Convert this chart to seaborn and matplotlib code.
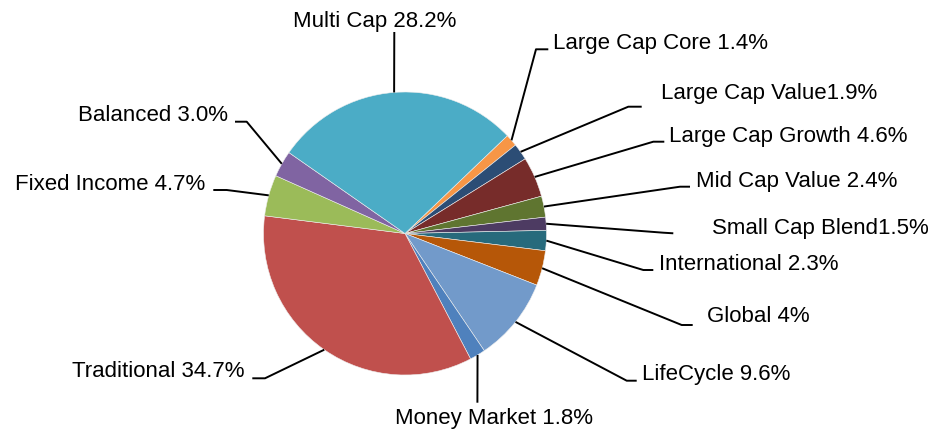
import numpy as np
import matplotlib
matplotlib.use('Agg')
import matplotlib.pyplot as plt
import seaborn as sns

# ---- data (clockwise from the slice right after Multi Cap) ----
categories = ['Large Cap Core', 'Large Cap Value', 'Large Cap Growth', 'Mid Cap Value',
              'Small Cap Blend', 'International', 'Global', 'LifeCycle', 'Money Market',
              'Traditional', 'Fixed Income', 'Balanced', 'Multi Cap']
shares = [1.4, 1.9, 4.6, 2.4, 1.5, 2.3, 4.0, 9.6, 1.8, 34.7, 4.7, 3.0, 28.2]
labels = ['Large Cap Core 1.4%', 'Large Cap Value1.9%', 'Large Cap Growth 4.6%',
          'Mid Cap Value 2.4%', 'Small Cap Blend1.5%', 'International 2.3%', 'Global 4%',
          'LifeCycle 9.6%', 'Money Market 1.8%', 'Traditional 34.7%', 'Fixed Income 4.7%',
          'Balanced 3.0%', 'Multi Cap 28.2%']
colors = ['#f79646', '#2c4d75', '#772c2a', '#5f7530', '#4d3b62', '#276a7c', '#b65708',
          '#729aca', '#4f81bd', '#c0504d', '#9bbb59', '#8064a2', '#4bacc6']

# ---- layout (pixel positions, y measured from top) ----
W, H = 934, 432
cx, cy, R = 405, 233.5, 141.5
start_angle = 43.7
# connector elbow / end points
elbows = [(536, 49.3), (628.3, 106.7), (653.3, 141.7), (680, 186.7), (663.3, 232.7),
          (643.3, 270), (681.7, 325), (626.7, 380.7), (477.4, 402.7), (265, 378.3),
          (226.7, 190), (246.7, 121.7), (394.3, 32)]
ends = [(548.3, 49.3), (641.7, 106.7), (664.3, 141.7), (690, 186.7), (673.3, 233.3),
        (653.3, 270), (692.7, 325), (636.7, 380.7), (477.4, 402.7), (252.3, 378.3),
        (213.3, 190), (235, 121.7), (394.3, 32)]
# text anchor: (x, baseline y, ha)
text_pos = [(552.7, 49.3, 'left'), (660.7, 99, 'left'), (669, 141.7, 'left'),
            (696, 186.7, 'left'), (712.3, 234, 'left'), (659, 270, 'left'),
            (707.3, 321.7, 'left'), (642.3, 380, 'left'), (395, 424, 'left'),
            (245, 377.3, 'right'), (205, 190, 'right'), (228.3, 120.7, 'right'),
            (293.3, 26.7, 'left')]

sns.set_style('white')
plt.rcParams['font.family'] = ['Liberation Sans', 'DejaVu Sans']

fig = plt.figure(figsize=(W / 100, H / 100), dpi=100)
ax = fig.add_axes([0, 0, 1, 1])
ax.set_xlim(0, W)
ax.set_ylim(0, H)
ax.axis('off')


def fy(y):
    return H - y


wedges, _ = ax.pie(shares, colors=sns.color_palette(colors), startangle=start_angle,
                   counterclock=False, center=(cx, fy(cy)), radius=R,
                   wedgeprops=dict(edgecolor='#eeeeee', linewidth=0.4))
ax.set_xlim(0, W)
ax.set_ylim(0, H)
ax.set_aspect('equal')

for w, lab, (ex, ey), (tx, ty), (px, py, ha) in zip(wedges, labels, elbows, ends, text_pos):
    mid = np.deg2rad((w.theta1 + w.theta2) / 2)
    rx, ry = cx + R * np.cos(mid), fy(cy) + R * np.sin(mid)
    ax.plot([rx, ex, tx], [ry, fy(ey), fy(ty)], color='black', lw=1.4,
            solid_capstyle='butt', zorder=3)
    ax.text(px, fy(py), lab, ha=ha, va='baseline', fontsize=16, color='black')

fig.savefig('out.png', dpi=100)
